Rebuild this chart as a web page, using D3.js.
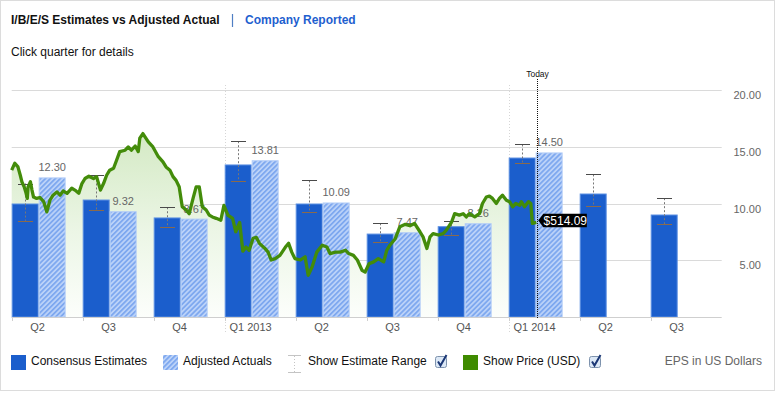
<!DOCTYPE html>
<html>
<head>
<meta charset="utf-8">
<script src="https://cdn.jsdelivr.net/npm/d3@7"></script>
<style>
  body { margin: 0; background: #fff; }
  svg text { font-family: "Liberation Sans", Arial, Helvetica, sans-serif; }
</style>
</head>
<body>
<div id="chart"></div>
<script>
// Quarters shown on the axis
const quarterLabels = ["Q2", "Q3", "Q4", "Q1 2013", "Q2", "Q3", "Q4", "Q1 2014", "Q2", "Q3"];
const quarterStarts = ["2012-04-01", "2012-07-01", "2012-10-01", "2013-01-01", "2013-04-01",
    "2013-07-01", "2013-10-01", "2014-01-01", "2014-04-01", "2014-07-01", "2014-10-01"];

// EPS values
const estimates = [10.00, 10.35, 8.77, 13.44, 10.00, 7.35, 8.00, 14.05, 10.88, 9.03];
const actuals = [12.30, 9.32, 8.67, 13.81, 10.09, 7.47, 8.26, 14.50, null, null];
const estHigh = [11.76, 12.47, 9.67, 15.49, 12.03, 8.26, 8.50, 15.20, 12.56, 10.47];
const estLow = [8.47, 9.47, 7.97, 11.97, 9.21, 6.65, 7.26, 13.53, 9.82, 8.15];
const yTicks = [5, 10, 15, 20];

// Share price (USD), days after 2012-04-01
const priceStart = "2012-04-01";
const priceDays = [0,4,8,11,13,16,18,20,21,24,26,28,32,36,41,45,49,53,58,62,66,71,77,81,86,90,94,99,105,109,
    114,118,122,126,131,135,139,146,150,154,159,163,165,169,176,182,189,195,199,204,208,212,216,220,225,229,234,238,242,246,
    251,255,259,264,270,274,279,285,289,294,298,302,306,311,315,319,326,330,334,339,345,352,356,360,364,371,377,381,386,392,
    399,405,409,416,422,429,433,439,444,450,454,459,465,471,478,482,486,493,499,506,512,518,525,529,534,538,542,549,555,559,
    566,570,576,581,585,589,596,602,606,611,615,619,624,628,632,637,641,645,649,654,656,660,665,668,670,675];
const priceValues = [627,642,634,616,602,591,580,566,591,602,584,569,566,568,559,537,562,573,580,573,582,577,588,584,577,598,609,614,609,613,
    584,598,616,627,631,649,667,670,677,670,679,667,696,706,688,677,656,645,634,627,613,605,591,548,541,533,566,591,591,548,
    541,530,526,523,519,551,530,523,494,514,452,461,454,480,482,469,458,450,433,436,443,461,469,450,436,433,440,400,418,450,
    465,461,447,450,450,454,447,443,433,411,407,425,429,436,429,454,465,479,505,510,507,512,494,483,458,483,490,487,490,497,
    515,533,530,533,526,533,526,533,555,569,571,566,555,566,573,562,559,548,555,551,559,548,559,555,512,514.09];
const todayDate = "2014-02-06";

function drawChart() {
    const width = 778, height = 393;
    const left = 11.7, right = 721.7, top = 90, bottom = 317;
    const blue = "#1b5ecc", green = "#438c0a";

    const svg = d3.select("#chart").append("svg")
        .attr("width", width)
        .attr("height", height);

    const defs = svg.append("defs");

    // hatch for adjusted actuals
    const hatch = defs.append("pattern")
        .attr("id", "hatch")
        .attr("patternUnits", "userSpaceOnUse")
        .attr("width", 3.5).attr("height", 3.5)
        .attr("patternTransform", "rotate(45)");
    hatch.append("rect").attr("width", 3.5).attr("height", 3.5).attr("fill", "#bcd3f9");
    hatch.append("rect").attr("width", 1.8).attr("height", 3.5).attr("fill", "#7ea8ef");

    const grad = defs.append("linearGradient")
        .attr("id", "priceFill")
        .attr("gradientUnits", "userSpaceOnUse")
        .attr("x1", 0).attr("x2", 0).attr("y1", 130).attr("y2", bottom);
    grad.append("stop").attr("offset", 0).attr("stop-color", "#d3e9c3");
    grad.append("stop").attr("offset", 0.55).attr("stop-color", "#ecf6e6");
    grad.append("stop").attr("offset", 1).attr("stop-color", "#fcfefb");

    // card border
    svg.append("rect")
        .attr("x", 0.5).attr("y", 0.5)
        .attr("width", 774).attr("height", 390)
        .attr("fill", "none")
        .attr("stroke", "#dcdcdc");

    // header
    svg.append("text")
        .attr("x", 11).attr("y", 24)
        .style("font-size", "12px").style("font-weight", "bold").style("fill", "#111")
        .text("I/B/E/S Estimates vs Adjusted Actual");
    svg.append("line")
        .attr("x1", 232.5).attr("x2", 232.5).attr("y1", 14).attr("y2", 27)
        .attr("stroke", "#4f7fc4").attr("stroke-width", 1.2);
    svg.append("text")
        .attr("x", 245).attr("y", 24)
        .style("font-size", "12px").style("font-weight", "bold").style("fill", "#1f5fcf")
        .text("Company Reported");
    svg.append("text")
        .attr("x", 11).attr("y", 56)
        .style("font-size", "12px").style("fill", "#111")
        .text("Click quarter for details");

    // scales
    const x = d3.scaleBand()
        .domain(d3.range(quarterLabels.length))
        .range([left, right])
        .padding(0);
    const bw = x.bandwidth();
    const barW = bw * 0.38;

    const y = d3.scaleLinear().domain([0, 20]).range([bottom, top]);
    const yPrice = d3.scaleLinear().domain([310, 800]).range([bottom, top]);

    const parse = d3.timeParse("%Y-%m-%d");
    const xTime = d3.scaleTime()
        .domain(quarterStarts.map(parse))
        .range(quarterStarts.map((d, i) => left + i * bw));

    // grid
    svg.append("g").selectAll("line")
        .data(yTicks)
        .enter().append("line")
        .attr("x1", left).attr("x2", right)
        .attr("y1", d => Math.round(y(d)) + 0.5)
        .attr("y2", d => Math.round(y(d)) + 0.5)
        .attr("stroke", "#dadada");

    svg.append("g").selectAll("text")
        .data(yTicks)
        .enter().append("text")
        .attr("x", 761)
        .attr("y", d => y(d) + 9)
        .attr("text-anchor", "end")
        .style("font-size", "11px").style("fill", "#666")
        .text(d => d.toFixed(2));

    // year separators
    svg.append("g").selectAll("line")
        .data(quarterLabels.map((d, i) => i).filter(i => quarterLabels[i].startsWith("Q1")))
        .enter().append("line")
        .attr("x1", d => Math.round(x(d)) + 0.5).attr("x2", d => Math.round(x(d)) + 0.5)
        .attr("y1", 85).attr("y2", 334)
        .attr("stroke", "#d6d6d6")
        .attr("stroke-dasharray", "1,2");

    // price area
    const start = parse(priceStart);
    const price = priceDays.map((d, i) => ({ date: d3.timeDay.offset(start, d), value: priceValues[i] }));

    svg.append("path")
        .datum(price)
        .attr("fill", "url(#priceFill)")
        .attr("d", d3.area()
            .x(d => xTime(d.date))
            .y0(bottom)
            .y1(d => yPrice(d.value)));

    // bars
    const idx = d3.range(quarterLabels.length);
    svg.append("g").selectAll("rect")
        .data(idx)
        .enter().append("rect")
        .attr("x", i => x(i) + 0.5)
        .attr("y", i => y(estimates[i]) + 0.5)
        .attr("width", barW - 1)
        .attr("height", i => y(0) - y(estimates[i]) - 0.5)
        .attr("fill", blue)
        .attr("stroke", "#5b8fe2")
        .attr("stroke-width", 1);

    const withActual = idx.filter(i => actuals[i] != null);
    svg.append("g").selectAll("rect")
        .data(withActual)
        .enter().append("rect")
        .attr("x", i => x(i) + barW + 0.5)
        .attr("y", i => y(actuals[i]) + 0.5)
        .attr("width", barW - 1)
        .attr("height", i => y(0) - y(actuals[i]) - 0.5)
        .attr("fill", "url(#hatch)")
        .attr("stroke", "#b3cdf7")
        .attr("stroke-width", 1);

    svg.append("g").selectAll("text")
        .data(withActual)
        .enter().append("text")
        .attr("x", i => x(i) + barW * 1.5)
        .attr("y", i => y(actuals[i]) - 6)
        .attr("text-anchor", "middle")
        .style("font-size", "11px").style("fill", "#666")
        .text(i => actuals[i].toFixed(2));

    // estimate range whiskers
    const whisk = svg.append("g").selectAll("g")
        .data(idx)
        .enter().append("g")
        .attr("transform", i => `translate(${Math.round(x(i) + barW / 2) + 0.5},0)`);
    whisk.append("line")
        .attr("y1", i => y(estHigh[i])).attr("y2", i => y(estLow[i]))
        .attr("stroke", "#777").attr("stroke-dasharray", "2,2");
    whisk.append("line")
        .attr("x1", -7.5).attr("x2", 7.5)
        .attr("y1", i => Math.round(y(estHigh[i])) + 0.5).attr("y2", i => Math.round(y(estHigh[i])) + 0.5)
        .attr("stroke", "#4a4a4a");
    whisk.append("line")
        .attr("x1", -7.5).attr("x2", 7.5)
        .attr("y1", i => Math.round(y(estLow[i])) + 0.5).attr("y2", i => Math.round(y(estLow[i])) + 0.5)
        .attr("stroke", "#8a6a4c");

    // x axis
    svg.append("line")
        .attr("x1", left).attr("x2", right)
        .attr("y1", 317.5).attr("y2", 317.5)
        .attr("stroke", "#cfcfcf");
    svg.append("g").selectAll("line")
        .data(idx)
        .enter().append("line")
        .attr("x1", i => Math.round(x(i)) + 0.5).attr("x2", i => Math.round(x(i)) + 0.5)
        .attr("y1", 317.5).attr("y2", 321)
        .attr("stroke", "#cfcfcf");
    svg.append("g").selectAll("text")
        .data(idx)
        .enter().append("text")
        .attr("x", i => x(i) + bw * 0.365)
        .attr("y", 331)
        .attr("text-anchor", "middle")
        .style("font-size", "11px").style("fill", "#555")
        .text(i => quarterLabels[i]);

    // today marker
    const tx = Math.round(xTime(parse(todayDate))) + 0.5;
    svg.append("line")
        .attr("x1", tx).attr("x2", tx)
        .attr("y1", 79).attr("y2", 319)
        .attr("stroke", "#111")
        .attr("stroke-dasharray", "1,1");
    svg.append("text")
        .attr("x", tx).attr("y", 77)
        .attr("text-anchor", "middle")
        .style("font-size", "8.5px").style("fill", "#111")
        .text("Today");

    // price line
    svg.append("path")
        .datum(price)
        .attr("fill", "none")
        .attr("stroke", green)
        .attr("stroke-width", 3.3)
        .attr("stroke-linejoin", "round")
        .attr("d", d3.line()
            .x(d => xTime(d.date))
            .y(d => yPrice(d.value)));

    // last price tag
    const last = price[price.length - 1];
    const lx = xTime(last.date) + 2, ly = yPrice(last.value) - 2;
    svg.append("path")
        .attr("d", `M${lx},${ly} L${lx + 5},${ly - 6.7} H${lx + 48.5} V${ly + 6.7} H${lx + 5} Z`)
        .attr("fill", "#000");
    svg.append("text")
        .attr("x", lx + 27).attr("y", ly + 4.5)
        .attr("text-anchor", "middle")
        .style("font-size", "12px").style("fill", "#fff")
        .text("$" + last.value.toFixed(2));

    // legend
    const lg = svg.append("g");
    lg.append("rect").attr("x", 11).attr("y", 355).attr("width", 15).attr("height", 15).attr("fill", blue);
    lg.append("text").attr("x", 31).attr("y", 365).style("font-size", "12px").style("fill", "#111")
        .text("Consensus Estimates");
    lg.append("rect").attr("x", 163).attr("y", 355).attr("width", 15).attr("height", 15)
        .attr("fill", "url(#hatch)");
    lg.append("text").attr("x", 183).attr("y", 365).style("font-size", "12px").style("fill", "#111")
        .text("Adjusted Actuals");

    lg.append("line").attr("x1", 288).attr("x2", 301).attr("y1", 355.5).attr("y2", 355.5).attr("stroke", "#c4c4c4");
    lg.append("line").attr("x1", 294.5).attr("x2", 294.5).attr("y1", 356).attr("y2", 372)
        .attr("stroke", "#c4c4c4").attr("stroke-dasharray", "1,2");
    lg.append("line").attr("x1", 288).attr("x2", 301).attr("y1", 372.5).attr("y2", 372.5).attr("stroke", "#c4c4c4");
    lg.append("text").attr("x", 308).attr("y", 365).style("font-size", "12px").style("fill", "#111")
        .text("Show Estimate Range");

    lg.append("rect").attr("x", 463).attr("y", 355).attr("width", 15).attr("height", 15).attr("fill", "#3f8b00");
    lg.append("text").attr("x", 483).attr("y", 365).style("font-size", "12px").style("fill", "#111")
        .text("Show Price (USD)");

    [435, 589].forEach(cx => {
        lg.append("rect").attr("x", cx + 0.5).attr("y", 356.5).attr("width", 11).attr("height", 11)
            .attr("rx", 2).attr("fill", "#dce8f6").attr("stroke", "#7d92ad");
        lg.append("path")
            .attr("d", `M${cx + 3},${361.5} L${cx + 5.5},${365.5} L${cx + 11.5},${355}`)
            .attr("fill", "none").attr("stroke", "#1b3775").attr("stroke-width", 2);
    });

    lg.append("text").attr("x", 762).attr("y", 365).attr("text-anchor", "end")
        .style("font-size", "12px").style("fill", "#666")
        .text("EPS in US Dollars");
}

drawChart();
</script>
</body>
</html>
